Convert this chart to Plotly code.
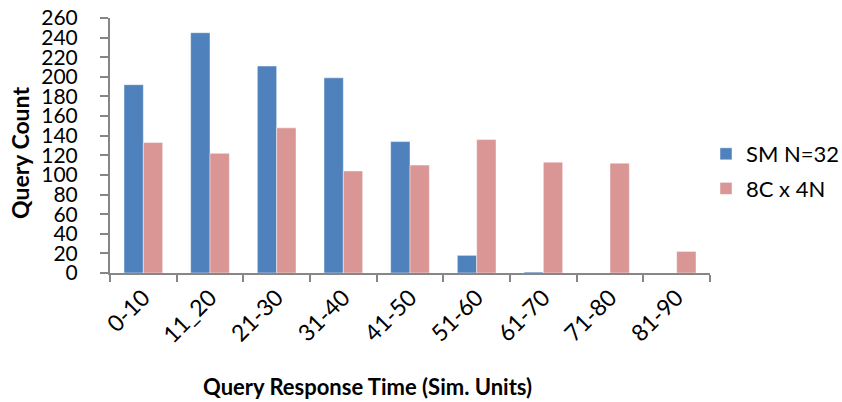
import plotly.graph_objects as go

categories = ["0-10", "11_20", "21-30", "31-40", "41-50", "51-60", "61-70", "71-80", "81-90"]
sm_n32 = [192, 245, 211, 199, 134, 18, 1, 0, 0]
c8x4n = [133, 122, 148, 104, 110, 136, 113, 112, 22]
y_ticks = list(range(0, 261, 20))

W, H = 842, 402
L, R, T, B = 110, 132, 18, 129
FONT = "Lato, 'Open Sans', sans-serif"

def px_x(x):
    return (x - L) / (W - L - R)

def px_y(y):
    return 1 - (y - T) / (H - T - B)

fig = go.Figure()
fig.add_trace(go.Bar(x=categories, y=sm_n32, name="SM N=32", legendgroup="a",
                     marker=dict(color="#4F81BD", line=dict(color="rgba(255,255,255,0.45)", width=1))))
fig.add_trace(go.Bar(x=categories, y=c8x4n, name="8C x 4N", legendgroup="b",
                     marker=dict(color="#D99694", line=dict(color="rgba(255,255,255,0.45)", width=1))))

fig.update_layout(
    width=W, height=H,
    margin=dict(l=L, r=R, t=T, b=B, autoexpand=False),
    paper_bgcolor="white", plot_bgcolor="white",
    barmode="group", bargap=0.42, bargroupgap=0,
    font=dict(family=FONT, size=20, color="black"),
    showlegend=True,
    legend=dict(x=px_x(706), y=px_y(133), xanchor="left", yanchor="top",
                font=dict(size=22), tracegroupgap=3, traceorder="grouped",
                bgcolor="rgba(0,0,0,0)"),
    xaxis=dict(showline=True, linecolor="#868686", linewidth=2,
               ticks="outside", ticklen=7, tickcolor="#868686", tickwidth=2,
               tickson="boundaries", tickangle=-45, showgrid=False,
               tickfont=dict(size=23), range=[-0.5, 8.5], automargin=False),
    yaxis=dict(range=[0, 260], tickvals=y_ticks, showline=True, linecolor="#868686",
               linewidth=2, ticks="outside", ticklen=8, tickcolor="#868686", tickwidth=2,
               showgrid=False, zeroline=False, tickfont=dict(size=21),
               ticklabelstandoff=18, automargin=False),
    annotations=[
        dict(text="<b>Query Count</b>", textangle=-90, x=px_x(20), y=px_y(153),
             xanchor="center", yanchor="middle",
             xref="paper", yref="paper", showarrow=False, font=dict(size=23)),
        dict(text="<b>Query Response Time (Sim. Units)</b>", x=px_x(367), y=px_y(386),
             xanchor="center", yanchor="middle",
             xref="paper", yref="paper", showarrow=False, font=dict(size=22)),
    ],
)

fig.write_html("out.html")
